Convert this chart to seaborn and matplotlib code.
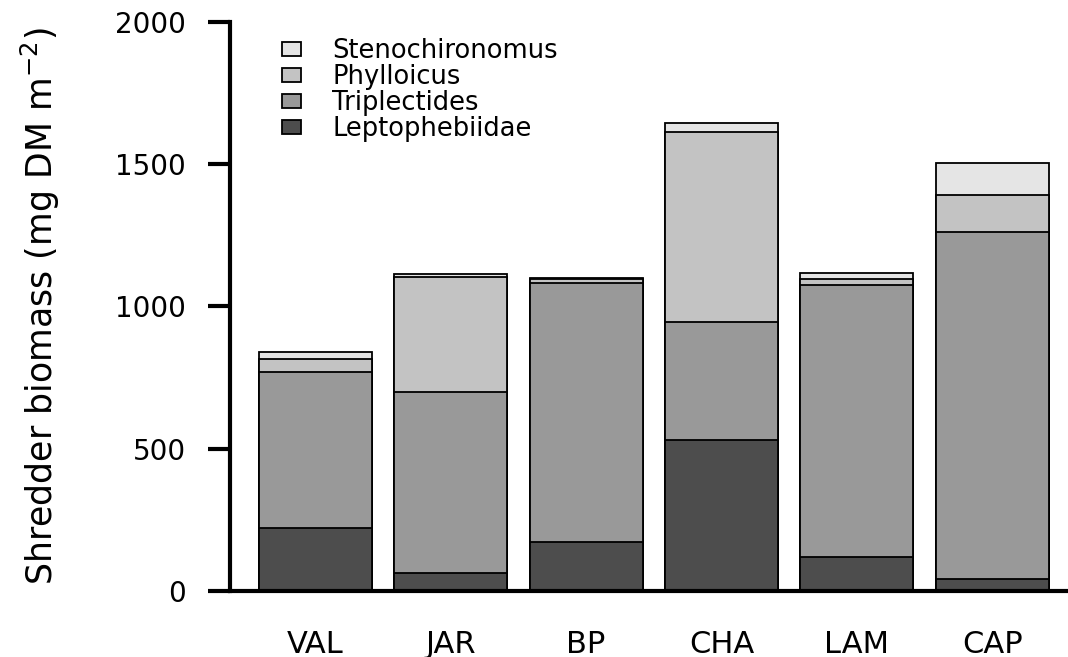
import matplotlib
matplotlib.use("Agg")
import matplotlib.pyplot as plt
import seaborn as sns
import numpy as np
import pandas as pd
from matplotlib.patches import Patch

# Shredder biomass by site and taxon (mg DM m^-2)
sites = ["VAL", "JAR", "BP", "CHA", "LAM", "CAP"]
leptophebiidae = [220, 63, 173, 530, 120, 41]
triplectides = [550, 637, 910, 415, 956, 1221]
phylloicus = [46, 404, 12, 668, 21, 130]
stenochironomus = [24, 10, 5, 32, 21, 112]

taxa = ["Stenochironomus", "Phylloicus", "Triplectides", "Leptophebiidae"]
colors = {"Stenochironomus": "#e5e5e5", "Phylloicus": "#c3c3c3",
          "Triplectides": "#999999", "Leptophebiidae": "#4d4d4d"}

df = pd.DataFrame({"site": sites, "Leptophebiidae": leptophebiidae,
                   "Triplectides": triplectides, "Phylloicus": phylloicus,
                   "Stenochironomus": stenochironomus})
stack_order = ["Leptophebiidae", "Triplectides", "Phylloicus", "Stenochironomus"]
cum = df[stack_order].cumsum(axis=1)

sns.set_theme(style="ticks")
plt.rcParams["font.family"] = ["DejaVu Sans"]
plt.rcParams["mathtext.fontset"] = "dejavusans"
plt.rcParams["text.color"] = "black"
plt.rcParams["axes.labelcolor"] = "black"
plt.rcParams["xtick.color"] = "black"
plt.rcParams["ytick.color"] = "black"
plt.rcParams["axes.edgecolor"] = "black"

fig = plt.figure(figsize=(10.68, 6.57), dpi=100)
ax = fig.add_axes([230 / 1068, 1 - 591 / 657, 1 - 230 / 1068, (591 - 22) / 657])

# draw cumulative totals from the top layer down so each segment shows
for taxon in stack_order[::-1]:
    sns.barplot(x=df["site"], y=cum[taxon], color=colors[taxon], width=0.835,
                edgecolor="black", linewidth=1.3, saturation=1, ax=ax, zorder=2)

ax.set_xlim(-0.63, 5.56)
ax.set_ylim(0, 2000)
ax.set_yticks([0, 500, 1000, 1500, 2000])
ax.set_xlabel("")
ax.set_ylabel(r"Shredder biomass (mg DM m$^{-2}$)", fontsize=25)
ax.yaxis.set_label_coords(-0.2005, 0.5)

for side in ["top", "right"]:
    ax.spines[side].set_visible(False)
ax.spines["left"].set_linewidth(3)
ax.spines["bottom"].set_linewidth(3)
ax.spines["left"].set_zorder(5)
ax.spines["bottom"].set_zorder(5)

ax.tick_params(axis="y", length=16, width=3, labelsize=20, pad=16)
ax.tick_params(axis="x", length=0, labelsize=22, pad=28)

handles = [Patch(facecolor=colors[t], edgecolor="black", linewidth=1.3, label=t) for t in taxa]
leg = ax.legend(handles=handles, loc="upper left", bbox_to_anchor=(0.05, 0.99),
                frameon=False, fontsize=18.5, labelspacing=0.0, handlelength=0.75,
                handleheight=0.5, handletextpad=1.2, borderaxespad=0)

fig.savefig("out.png", dpi=100, facecolor="white")
